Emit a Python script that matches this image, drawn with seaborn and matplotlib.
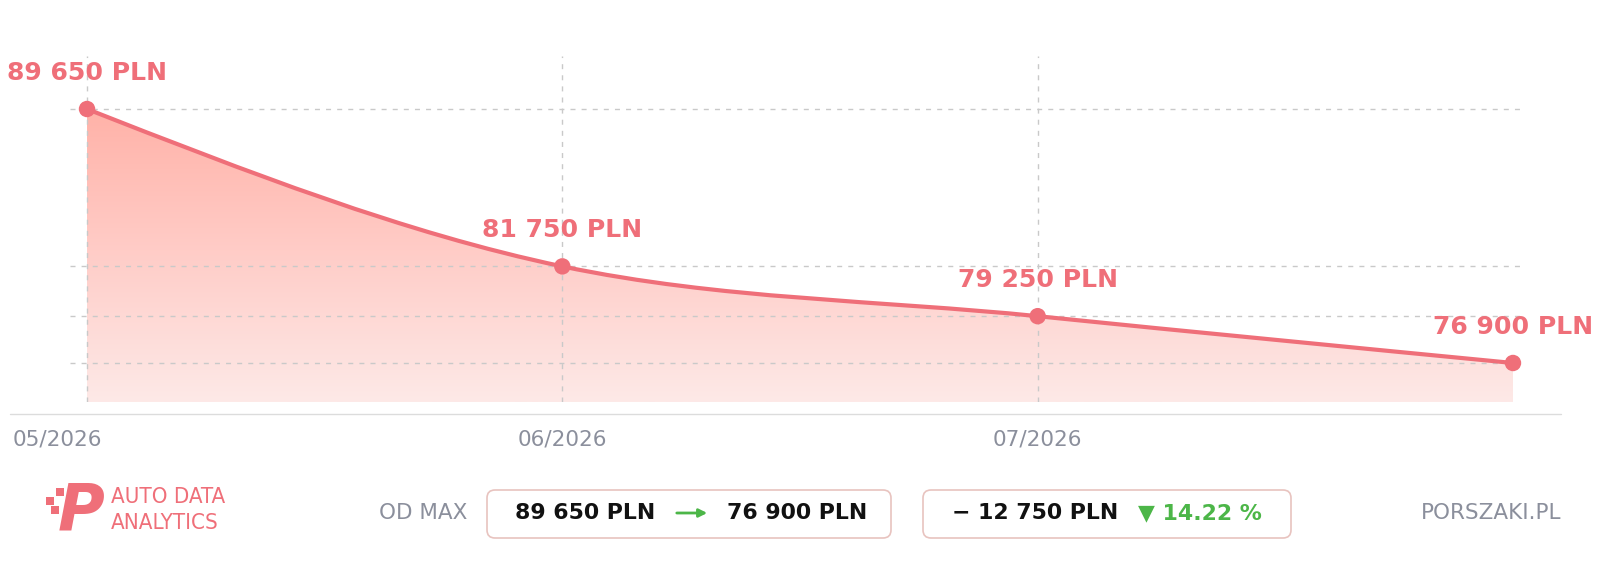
import numpy as np
import matplotlib
matplotlib.use("Agg")
import matplotlib.pyplot as plt
import seaborn as sns
from matplotlib.path import Path
from matplotlib.patches import PathPatch, FancyBboxPatch, FancyArrowPatch, Rectangle
from matplotlib.colors import LinearSegmentedColormap
from matplotlib.transforms import ScaledTranslation

# -------------------------------
# Data
# -------------------------------
months = ["05/2026", "06/2026", "07/2026", "08/2026"]
prices = [89650, 81750, 79250, 76900]
shown_ticks = ["05/2026", "06/2026", "07/2026"]
price_labels = ["89 650 PLN", "81 750 PLN", "79 250 PLN", "76 900 PLN"]
summary_from = "89 650 PLN"
summary_to = "76 900 PLN"
summary_diff = "\u2212 12 750 PLN"
summary_pct = "\u25bc 14.22 %"

RED = "#ef6f79"
GREY = "#8b8f9c"
GREEN = "#4cb648"
BOX_EDGE = "#e8c3bf"

sns.set_theme(style="white")
plt.rcParams["font.family"] = ["DejaVu Sans"]

fig = plt.figure(figsize=(16, 5.69), dpi=100)
ax = fig.add_axes([70 / 1600, 1 - 402 / 569, 1456 / 1600, 346 / 569])

x = np.arange(len(months), dtype=float)
y = np.array(prices, dtype=float)
ymin, ymax = 74942, 92311
ax.set_xlim(-0.0358, 3.0274)
ax.set_ylim(ymin, ymax)

# monotone cubic (d3 monotoneX) tangents for a smooth line
h = np.diff(x)
s = np.diff(y) / h
t = np.zeros_like(y)
for i in range(1, len(y) - 1):
    p = (s[i - 1] * h[i] + s[i] * h[i - 1]) / (h[i - 1] + h[i])
    t[i] = (np.sign(s[i - 1]) + np.sign(s[i])) * min(abs(s[i - 1]), abs(s[i]), 0.5 * abs(p))
t[0] = (3 * s[0] - t[1]) / 2
t[-1] = (3 * s[-1] - t[-2]) / 2

verts = [(x[0], y[0])]
codes = [Path.MOVETO]
for i in range(len(y) - 1):
    d = h[i] / 3
    verts += [(x[i] + d, y[i] + d * t[i]), (x[i + 1] - d, y[i + 1] - d * t[i + 1]), (x[i + 1], y[i + 1])]
    codes += [Path.CURVE4] * 3
line_path = Path(verts, codes)
fill_path = Path(verts + [(x[-1], ymin), (x[0], ymin), (x[0], ymin)],
                 codes + [Path.LINETO, Path.LINETO, Path.CLOSEPOLY])

# gradient fill under the curve
cmap = LinearSegmentedColormap.from_list("fade", ["#ffb2a8", "#ffcdc8", "#fde9e7"])
grad = np.linspace(0, 1, 256).reshape(-1, 1)
img = ax.imshow(grad, cmap=cmap, aspect="auto", extent=[x[0], x[-1], ymin, y.max()],
                origin="upper", zorder=1)
clip = PathPatch(fill_path, transform=ax.transData, facecolor="none", edgecolor="none")
ax.add_patch(clip)
img.set_clip_path(clip)

ax.add_patch(PathPatch(line_path, facecolor="none", edgecolor=RED, lw=3, zorder=3,
                       capstyle="round", joinstyle="round"))
sns.scatterplot(x=x, y=y, ax=ax, color=RED, s=140, edgecolor="none", zorder=4)

for xi, yi, lab in zip(x, y, price_labels):
    ax.annotate(lab, (xi, yi), xytext=(0, 36), textcoords="offset pixels",
                ha="center", va="center", fontsize=18.1, fontweight="bold",
                color=RED, annotation_clip=False, zorder=5)

# grid (drawn over the fill)
ax.set_axisbelow(False)
ax.set_yticks(prices)
ax.set_xticks(x[:3], shown_ticks)
ax.grid(True, color="#c9c9c9", linestyle=(0, (3.6, 4.4)), lw=1, zorder=2)
ax.tick_params(axis="y", left=False, labelleft=False)
ax.tick_params(axis="x", length=0, pad=20, labelsize=15.5, labelcolor=GREY)
ax.get_xticklabels()[0].set_transform(ax.get_xticklabels()[0].get_transform()
                                      + ScaledTranslation(-0.30, 0, fig.dpi_scale_trans))
for sp in ax.spines.values():
    sp.set_visible(False)
ax.set_facecolor("none")

# helpers in pixel coords (top-left origin)
tr = fig.dpi_scale_trans
def P(px, py):
    return px / 100, (569 - py) / 100

# axis baseline
fig.add_artist(plt.Line2D([P(10, 0)[0], P(1561, 0)[0]], [P(0, 414)[1]] * 2,
                          transform=tr, color="#dcdcdc", lw=1))

# -------------------------------
# Footer
# -------------------------------
for (sx, sy) in [(56, 488), (46, 497), (51, 506)]:
    fig.add_artist(Rectangle(P(sx, sy + 8), 0.08, 0.08, transform=tr, color=RED, lw=0))
fig.text(*P(81, 511), "P", transform=tr, ha="center", va="center", fontsize=46,
         fontweight="heavy", fontstyle="italic", color=RED)
fig.text(*P(111, 497), "AUTO DATA", transform=tr, ha="left", va="center",
         fontsize=16, color=RED, fontstretch="condensed")
fig.text(*P(111, 523), "ANALYTICS", transform=tr, ha="left", va="center",
         fontsize=16, color=RED, fontstretch="condensed")

fig.text(*P(467, 513), "OD MAX", transform=tr, ha="right", va="center",
         fontsize=15.5, color=GREY)

for (bx0, bx1) in [(487, 891), (923, 1291)]:
    fig.add_artist(FancyBboxPatch(P(bx0, 538), (bx1 - bx0) / 100, 0.48,
                                  boxstyle="round,pad=0,rounding_size=0.08",
                                  transform=tr, facecolor="white", edgecolor=BOX_EDGE, lw=1.2))

fig.text(*P(515, 513), summary_from, transform=tr, ha="left", va="center",
         fontsize=15.8, fontweight="bold", color="#111111")
fig.add_artist(FancyArrowPatch(P(674, 513), P(710, 513), transform=tr,
                               arrowstyle="-|>", mutation_scale=12, lw=2, color=GREEN))
fig.text(*P(727, 513), summary_to, transform=tr, ha="left", va="center",
         fontsize=15.8, fontweight="bold", color="#111111")
fig.text(*P(952, 513), summary_diff, transform=tr, ha="left", va="center",
         fontsize=15.8, fontweight="bold", color="#111111")
fig.text(*P(1138, 513), summary_pct, transform=tr, ha="left", va="center",
         fontsize=15.8, fontweight="bold", color=GREEN)

fig.text(*P(1561, 513), "PORSZAKI.PL", transform=tr, ha="right", va="center",
         fontsize=15.5, color=GREY)

plt.savefig("out.png", dpi=100)
